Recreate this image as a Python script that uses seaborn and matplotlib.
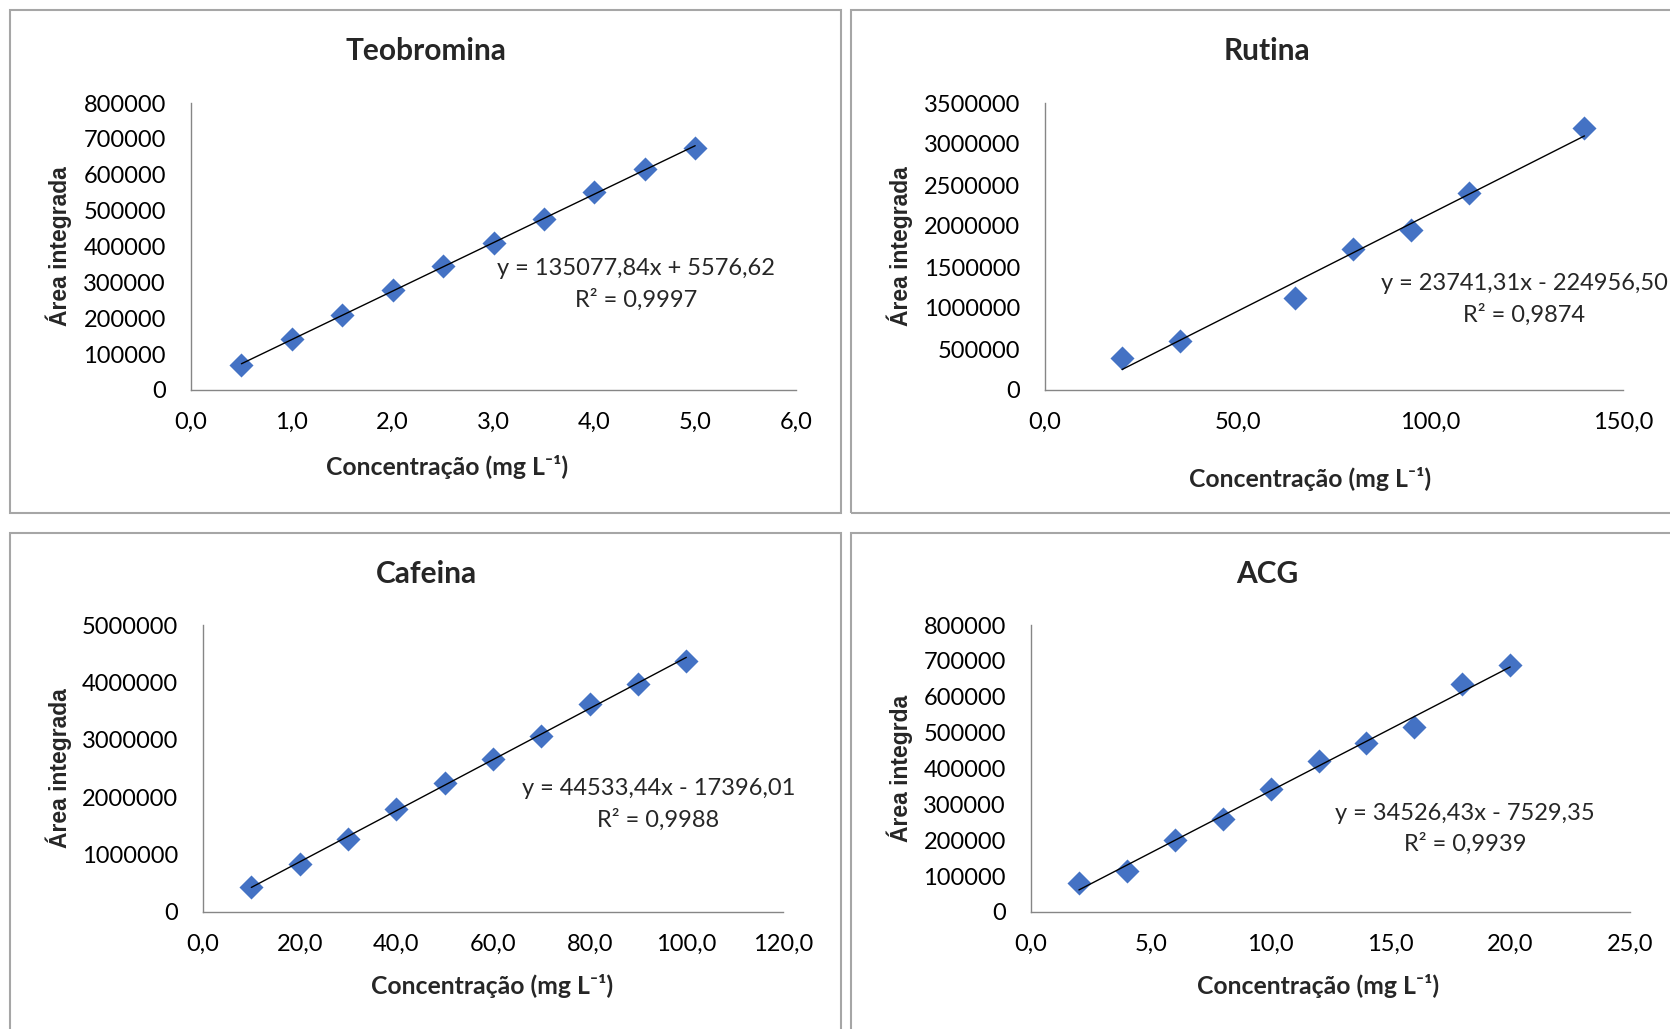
import numpy as np
import matplotlib
matplotlib.use("Agg")
import matplotlib.pyplot as plt
import matplotlib.ticker as mticker
from matplotlib.patches import Rectangle
import seaborn as sns

# ── Data ──────────────────────────────────────────────────
teo_x = [0.5, 1.0, 1.5, 2.0, 2.5, 3.0, 3.5, 4.0, 4.5, 5.0]
teo_y = [70000, 142000, 208000, 278000, 345000, 410000, 478000, 553000, 615000, 675000]
teo_fit = (135077.84, 5576.62)
teo_r2 = "0,9997"

rut_x = [20, 35, 65, 80, 95, 110, 140]
rut_y = [390000, 600000, 1120000, 1720000, 1950000, 2400000, 3200000]
rut_fit = (23741.31, -224956.50)
rut_r2 = "0,9874"

caf_x = [10, 20, 30, 40, 50, 60, 70, 80, 90, 100]
caf_y = [430000, 840000, 1270000, 1800000, 2250000, 2670000, 3060000, 3630000, 3970000, 4380000]
caf_fit = (44533.44, -17396.01)
caf_r2 = "0,9988"

acg_x = [2, 4, 6, 8, 10, 12, 14, 16, 18, 20]
acg_y = [80000, 115000, 200000, 258000, 342000, 420000, 470000, 515000, 635000, 688000]
acg_fit = (34526.43, -7529.35)
acg_r2 = "0,9939"

# ── Style ─────────────────────────────────────────────────
sns.set_style("white")
plt.rcParams["font.family"] = ["Lato", "DejaVu Sans"]
BLUE = "#4472C4"
GRAY = "#868686"
FRAME = "#a6a6a6"

fig = plt.figure(figsize=(16.7, 10.29), dpi=100)
W, H = 1670, 1029

def frac(l, t, r, b):
    return [l / W, 1 - b / H, (r - l) / W, (b - t) / H]

def fmt_num(v, dec=2):
    return f"{abs(v):.{dec}f}".replace(".", ",")

panels = [
    # name, x, y, fit, r2, xmax, xstep, ymax, ystep, axes box (px), eq pos,
    # ylabel, ylabel x, xlabel pos, frame box (px)
    ("Teobromina", teo_x, teo_y, teo_fit, teo_r2, 6, 1, 800000, 100000,
     (191, 103, 796, 390), (0.736, 0.368), "Área integrada", -0.197, (0.423, -0.225),
     (10, 10, 841, 513)),
    ("Rutina", rut_x, rut_y, rut_fit, rut_r2, 150, 50, 3500000, 500000,
     (1045, 103, 1623, 390), (0.829, 0.316), "Área integrada", -0.228, (0.458, -0.27),
     (851, 10, 1700, 513)),
    ("Cafeina", caf_x, caf_y, caf_fit, caf_r2, 120, 20, 5000000, 1000000,
     (203, 625, 783, 912), (0.785, 0.375), "Área integrada", -0.226, (0.498, -0.215),
     (10, 533, 841, 1060)),
    ("ACG", acg_x, acg_y, acg_fit, acg_r2, 25, 5, 800000, 100000,
     (1031, 625, 1630, 912), (0.725, 0.29), "Área integrda", -0.197, (0.479, -0.215),
     (851, 533, 1700, 1060)),
]

for (name, xs, ys, fit, r2, xmax, xstep, ymax, ystep, box, eqpos, ylab,
     ylx, xlp, frame) in panels:
    l, t, r, b = frame
    fig.patches.append(Rectangle((l / W, 1 - b / H), (r - l) / W, (b - t) / H,
                                 transform=fig.transFigure, fill=False,
                                 edgecolor=FRAME, linewidth=1.5))
    ax = fig.add_axes(frac(*box))
    slope, icpt = fit
    lx = np.array([min(xs), max(xs)], dtype=float)
    sns.lineplot(x=lx, y=slope * lx + icpt, ax=ax, color="black",
                 linewidth=1.0, zorder=3)
    sns.scatterplot(x=xs, y=ys, ax=ax, marker="D", s=150, color=BLUE,
                    edgecolor=BLUE, linewidth=0, zorder=2, clip_on=False)
    ax.set_xlim(0, xmax)
    ax.set_ylim(0, ymax)
    ax.set_xticks(np.arange(0, xmax + xstep / 2, xstep))
    ax.set_yticks(np.arange(0, ymax + ystep / 2, ystep))
    ax.xaxis.set_major_formatter(mticker.FuncFormatter(
        lambda v, _: f"{v:.1f}".replace(".", ",")))
    ax.yaxis.set_major_formatter(mticker.FuncFormatter(lambda v, _: f"{v:.0f}"))
    for s in ["top", "right"]:
        ax.spines[s].set_visible(False)
    for s in ["left", "bottom"]:
        ax.spines[s].set_color(GRAY)
        ax.spines[s].set_linewidth(1.0)
    ax.tick_params(axis="both", direction="out", length=7, width=1.0,
                   color=GRAY, labelsize=17, labelcolor="black")
    ax.tick_params(axis="x", pad=9)
    ax.tick_params(axis="y", pad=11)

    sign = "+" if icpt >= 0 else "-"
    eq = f"y = {fmt_num(slope)}x {sign} {fmt_num(icpt)}\nR² = {r2}"
    ax.text(eqpos[0], eqpos[1], eq, transform=ax.transAxes, ha="center",
            va="center", fontsize=17, linespacing=1.5, multialignment="center")

    ax.set_ylabel(ylab, fontsize=16.5, fontweight="bold",
                  family=["Liberation Sans", "DejaVu Sans"])
    ax.yaxis.set_label_coords(ylx, 0.5)
    ax.set_xlabel("Concentração (mg L⁻¹)", fontsize=17.8, fontweight="bold")
    ax.xaxis.set_label_coords(*xlp)

    fig.text((l + 416) / W, 1 - (t + 41) / H, name, ha="center", va="center",
             fontsize=21.5, fontweight="bold")

fig.savefig("out.png", dpi=100, facecolor="white")
